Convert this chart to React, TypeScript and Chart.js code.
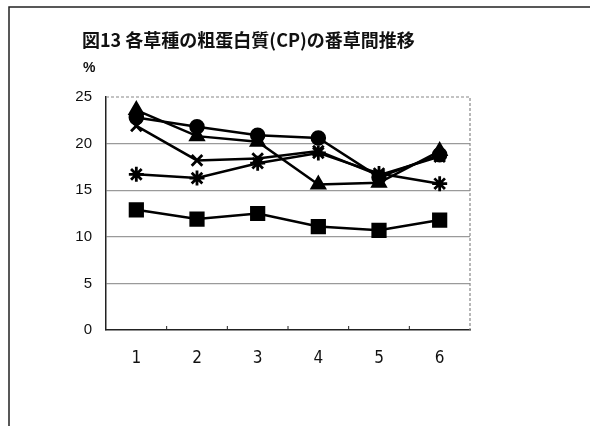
import React, { useEffect, useRef } from "react";
import { Chart, registerables } from "chart.js";

Chart.register(...registerables);

// Cutting number (番草) on the x axis
const cuts = ["1", "2", "3", "4", "5", "6"];

// Crude protein content (%) per grass species
const seriesCircle = [22.8, 21.8, 20.9, 20.6, 16.4, 18.8];
const seriesTriangle = [23.6, 20.8, 20.2, 15.6, 15.8, 19.2];
const seriesCross = [21.9, 18.2, 18.4, 19.2, 16.6, 18.6];
const seriesStar = [16.7, 16.3, 17.9, 19.0, 16.8, 15.7];
const seriesSquare = [12.9, 11.9, 12.5, 11.1, 10.7, 11.8];

const yTicks = [0, 5, 10, 15, 20, 25];

const titleText = "図13 各草種の粗蛋白質(CP)の番草間推移";
const unitText = "%";

const FONT = "'Noto Sans CJK JP', 'Noto Sans', sans-serif";
const NUM_FONT = "'Liberation Sans', Arial, sans-serif";
const NARROW_FONT = "'Liberation Sans Narrow', 'DejaVu Sans Condensed', 'Liberation Sans', sans-serif";

const decorations = {
  id: "decorations",
  beforeDraw(chart: any) {
    const { ctx } = chart;
    ctx.save();
    ctx.fillStyle = "#fff";
    ctx.fillRect(0, 0, chart.width, chart.height);
    // page frame
    ctx.strokeStyle = "#222";
    ctx.lineWidth = 1.5;
    ctx.beginPath();
    ctx.moveTo(chart.width, 7);
    ctx.lineTo(9, 7);
    ctx.lineTo(9, chart.height);
    ctx.stroke();
    // title and unit
    ctx.fillStyle = "#111";
    ctx.textBaseline = "middle";
    ctx.textAlign = "left";
    ctx.font = `bold 18px ${FONT}`;
    ctx.fillText(titleText, 82, 40);
    ctx.font = `bold 14px ${NUM_FONT}`;
    ctx.fillText(unitText, 83, 68);
    ctx.restore();
  },
  beforeDatasetsDraw(chart: any) {
    const { ctx, chartArea, scales } = chart;
    const { left, right, top, bottom } = chartArea;
    ctx.save();
    // dashed top and right edges of the plot area
    ctx.strokeStyle = "#888";
    ctx.lineWidth = 1.2;
    ctx.setLineDash([3, 2]);
    ctx.beginPath();
    ctx.moveTo(left, top);
    ctx.lineTo(right, top);
    ctx.lineTo(right, bottom);
    ctx.stroke();
    ctx.setLineDash([]);
    // small ticks between categories on the x axis
    ctx.strokeStyle = "#222";
    ctx.lineWidth = 1;
    const x = scales.x;
    for (let i = 0; i < cuts.length - 1; i++) {
      const px = x.getPixelForValue(i + 0.5);
      ctx.beginPath();
      ctx.moveTo(px, bottom);
      ctx.lineTo(px, bottom - 4);
      ctx.stroke();
    }
    ctx.restore();
  },
};

export default function App() {
  const canvasRef = useRef<HTMLCanvasElement | null>(null);

  useEffect(() => {
    const canvas = canvasRef.current;
    if (!canvas) return;

    const base = {
      borderColor: "#000",
      backgroundColor: "#000",
      pointBackgroundColor: "#000",
      pointBorderColor: "#000",
      borderWidth: 2.5,
      tension: 0,
    };

    const chart = new Chart(canvas, {
      type: "line",
      data: {
        labels: cuts,
        datasets: [
          { ...base, label: "square", data: seriesSquare, pointStyle: "rect", pointRadius: 9 },
          { ...base, label: "star", data: seriesStar, pointStyle: "star", pointRadius: 7.5, pointBorderWidth: 2.8 },
          { ...base, label: "cross", data: seriesCross, pointStyle: "crossRot", pointRadius: 7.5, pointBorderWidth: 2.8 },
          { ...base, label: "triangle", data: seriesTriangle, pointStyle: "triangle", pointRadius: 7.5 },
          { ...base, label: "circle", data: seriesCircle, pointStyle: "circle", pointRadius: 6.5 },
        ],
      },
      options: {
        responsive: false,
        animation: false,
        events: [],
        layout: { padding: { left: 0, right: 120, top: 97, bottom: 56 } },
        plugins: {
          legend: { display: false },
          title: { display: false },
          tooltip: { enabled: false },
        },
        scales: {
          x: {
            offset: true,
            grid: { display: false, drawTicks: false },
            border: { display: true, color: "#222", width: 1.5 },
            ticks: {
              color: "#111",
              font: { family: NARROW_FONT, size: 17 },
              padding: 18,
            },
            afterFit(scale: any) {
              scale.height = 40;
            },
          },
          y: {
            min: 0,
            max: 25,
            afterBuildTicks(scale: any) {
              scale.ticks = yTicks.map((v) => ({ value: v }));
            },
            grid: {
              drawTicks: false,
              color: (c: any) => (c.tick && (c.tick.value === 0 || c.tick.value === 25) ? "rgba(0,0,0,0)" : "#9a9a9a"),
              lineWidth: 1.2,
            },
            border: { display: true, color: "#222", width: 1.5 },
            ticks: {
              color: "#111",
              font: { family: NUM_FONT, size: 15 },
              padding: 14,
            },
            afterFit(scale: any) {
              scale.width = 106;
            },
          },
        },
      },
      plugins: [decorations],
    });

    return () => chart.destroy();
  }, []);

  return (
    <div style={{ position: "fixed", left: 0, top: 0, width: 590, height: 426, background: "#fff" }}>
      <canvas ref={canvasRef} width={590} height={426} style={{ display: "block" }} />
    </div>
  );
}
